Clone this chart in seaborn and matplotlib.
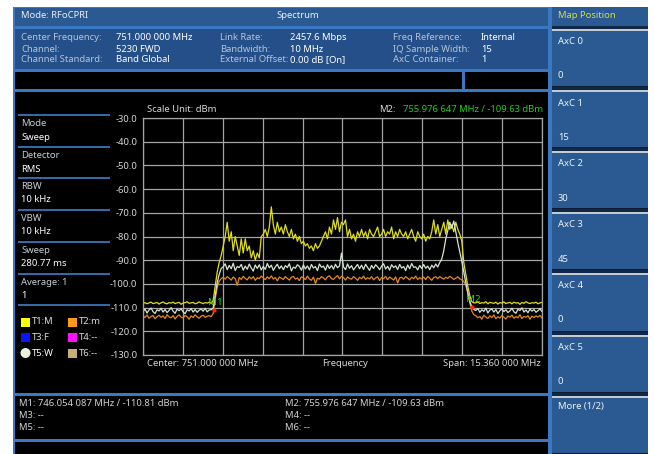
import numpy as np
import pandas as pd
import matplotlib
matplotlib.use("Agg")
import matplotlib.pyplot as plt
import seaborn as sns
from matplotlib.patches import Rectangle, Ellipse

# ---------------------------------------------------------------- data
center_mhz = 751.0
span_mhz = 15.36
top_dbm = -30.0
bottom_dbm = -130.0
y_ticks = [-30.0, -40.0, -50.0, -60.0, -70.0, -80.0, -90.0, -100.0, -110.0, -120.0, -130.0]

# T1: max hold trace (dBm per sweep point)
t1_max_hold = [
    -108.2, -107.9, -108.4, -108.0, -107.7, -108.3, -108.1, -107.8, -108.5, -108.0,
    -107.6, -108.2, -108.4, -107.9, -108.1, -107.7, -108.3, -108.0, -107.8, -108.6,
    -108.1, -107.9, -107.5, -108.2, -108.0, -107.8, -108.4, -108.1, -107.6, -108.0,
    -108.3, -107.9, -108.1, -107.7, -108.2,
    -107.0, -101.0, -95.0, -91.0, -88.0,
    -84.0, -80.0, -74.0, -82.0, -78.0, -86.0, -80.0, -84.0, -88.0, -81.0,
    -87.0, -81.0, -86.0, -84.0, -89.0, -86.0, -90.0, -87.0, -89.0, -80.0,
    -79.0, -77.0, -80.0, -76.0, -67.5, -75.0, -79.0, -74.0, -78.0, -76.0,
    -79.0, -75.0, -78.0, -80.0, -77.0, -81.0, -79.0, -82.0, -80.0, -83.0,
    -82.0, -84.0, -83.0, -85.0, -84.0, -86.0, -83.0, -85.0, -84.0, -82.0,
    -80.0, -78.0, -81.0, -76.0, -79.0, -73.0, -77.0, -72.0, -78.0, -74.0,
    -75.0, -73.0, -80.0, -77.0, -81.0, -79.0, -82.0, -78.0, -80.0, -77.0,
    -80.0, -78.0, -81.0, -77.0, -79.0, -80.0, -78.0, -76.0, -80.0, -79.0,
    -77.0, -80.0, -78.0, -79.0, -76.0, -81.0, -78.0, -80.0, -77.0, -79.0,
    -80.0, -78.0, -81.0, -79.0, -77.0, -80.0, -82.0, -78.0, -80.0, -81.0,
    -79.0, -82.0, -80.0, -81.0, -78.0, -73.0, -79.0, -75.0, -80.0, -77.0,
    -74.0, -79.0, -73.0, -77.0, -75.0, -78.0, -74.0, -77.0, -79.0, -82.0,
    -91.0, -96.0, -101.0, -105.0, -107.5, -108.0,
    -108.0, -107.6, -108.3, -107.9, -108.1, -107.5, -108.4, -107.8, -108.0, -108.2,
    -107.7, -108.5, -107.9, -108.1, -107.6, -108.3, -108.0, -107.8, -108.4, -107.7,
    -108.1, -107.9, -108.6, -107.8, -108.2, -107.5, -108.0, -108.3, -107.9, -108.1,
    -107.7, -108.4, -108.0, -107.8,
]

# T2: min hold trace
t2_min_hold = [
    -113.6, -114.2, -113.1, -114.5, -113.8, -113.3, -114.7, -113.9, -113.2, -114.1,
    -113.5, -114.6, -113.0, -113.9, -114.3, -113.4, -114.8, -113.7, -113.1, -114.0,
    -114.4, -113.3, -113.8, -114.9, -113.5, -114.2, -113.0, -113.9, -114.5, -113.6,
    -113.2, -114.1, -113.7, -113.4, -113.8,
    -112.5, -106.5, -101.5, -98.8, -97.8,
    -97.2, -98.0, -96.9, -97.6, -98.4, -97.1, -97.8, -100.6, -97.3, -98.1,
    -96.8, -97.7, -98.3, -97.0, -97.9, -96.9, -98.5, -97.4, -97.8, -96.7,
    -97.5, -98.2, -97.0, -97.8, -96.6, -98.0, -97.3, -98.7, -97.1, -97.6,
    -98.1, -96.9, -97.7, -98.4, -97.2, -96.8, -98.0, -97.5, -98.6, -97.0,
    -97.4, -98.2, -96.7, -97.9, -98.5, -97.1, -99.8, -97.6, -98.0, -96.9,
    -97.5, -98.3, -97.0, -96.6, -97.8, -98.1, -97.2, -96.5, -97.9, -96.8,
    -97.3, -98.4, -97.1, -97.7, -98.0, -96.9, -97.6, -98.5, -97.2, -97.8,
    -96.7, -98.1, -97.4, -97.9, -96.9, -98.3, -97.5, -97.0, -98.6, -97.3,
    -97.8, -96.8, -98.2, -97.1, -97.7, -98.4, -97.0, -99.6, -97.5, -97.2,
    -98.0, -96.9, -97.6, -98.3, -97.2, -97.8, -96.7, -98.1, -97.4, -97.9,
    -97.1, -98.2, -96.8, -97.6, -98.5, -97.3, -97.0, -97.8, -96.9, -97.5,
    -98.0, -97.2, -97.7, -96.8, -97.4, -98.1, -97.6, -97.0, -97.9, -98.3,
    -99.0, -100.5, -103.5, -108.0, -111.5, -113.0,
    -113.4, -114.3, -113.8, -114.9, -113.2, -114.0, -114.6, -113.5, -114.2, -113.1,
    -114.7, -113.9, -114.4, -113.3, -114.1, -114.8, -113.6, -114.0, -113.2, -114.5,
    -113.8, -114.3, -113.0, -114.6, -113.7, -114.1, -113.4, -114.9, -113.6, -114.2,
    -113.5, -114.0, -113.3, -114.4,
]

# T5: clear/write trace
t5_write = [
    -111.8, -110.6, -112.3, -111.0, -110.2, -111.7, -112.5, -110.9, -111.4, -110.3,
    -111.9, -110.8, -112.1, -111.2, -110.0, -111.5, -112.4, -110.7, -111.3, -110.5,
    -111.8, -112.6, -110.9, -111.4, -110.4, -111.9, -110.8, -112.0, -111.1, -110.6,
    -111.5, -110.3, -111.8, -111.0, -110.9,
    -110.2, -105.0, -99.5, -96.0, -93.5,
    -92.8, -91.5, -94.0, -92.2, -93.6, -91.3, -94.4, -92.7, -93.1, -91.8,
    -94.2, -92.5, -93.8, -91.6, -93.3, -94.6, -92.0, -93.5, -91.9, -94.1,
    -92.6, -93.9, -91.4, -93.2, -92.1, -94.3, -92.8, -91.7, -93.6, -92.4,
    -94.0, -92.3, -93.1, -91.5, -94.5, -92.9, -93.4, -91.9, -92.6, -94.2,
    -92.0, -93.7, -92.4, -94.1, -91.8, -93.3, -92.7, -94.4, -91.6, -93.0,
    -92.5, -94.2, -91.9, -93.5, -92.2, -93.8, -91.7, -93.2, -92.4, -87.0,
    -92.8, -94.0, -91.6, -93.4, -92.3, -94.1, -92.9, -91.8, -93.6, -92.1,
    -93.9, -91.7, -93.0, -94.3, -92.2, -93.5, -91.9, -92.8, -94.0, -92.5,
    -91.5, -93.7, -92.6, -94.2, -91.9, -93.1, -92.4, -93.9, -91.8, -93.3,
    -92.7, -94.4, -92.0, -93.6, -91.4, -93.0, -92.8, -94.1, -92.2, -93.5,
    -91.8, -93.4, -92.5, -94.0, -92.1, -93.2, -91.6, -92.9, -91.0, -89.5,
    -86.0, -81.0, -77.5, -74.0, -76.5, -73.5, -78.0, -82.5, -86.5, -90.5,
    -95.0, -99.5, -104.0, -107.5, -109.6, -110.8,
    -111.2, -110.4, -112.0, -110.9, -111.6, -110.2, -112.3, -111.0, -110.6, -111.9,
    -110.8, -112.5, -111.3, -110.5, -111.7, -110.9, -112.1, -111.4, -110.3, -111.8,
    -112.4, -110.7, -111.2, -110.1, -111.9, -111.0, -112.2, -110.6, -111.5, -110.8,
    -112.0, -111.3, -110.5, -111.7,
]

marker_names = ["M1", "M2"]
marker_freq_mhz = [746.054087, 755.976647]
marker_dbm = [-110.81, -109.63]

sidebar_labels = ["Mode", "Detector", "RBW", "VBW", "Sweep", "Average: 1"]
sidebar_values = ["Sweep", "RMS", "10 kHz", "10 kHz", "280.77 ms", "1"]

axc_names = ["AxC 0", "AxC 1", "AxC 2", "AxC 3", "AxC 4", "AxC 5"]
axc_values = ["0", "15", "30", "45", "0", "0"]

# ---------------------------------------------------------------- style
sns.set_theme(style="dark")
FONT = ["Noto Sans", "DejaVu Sans"]
plt.rcParams["font.family"] = FONT

W, H = 654, 454
fig = plt.figure(figsize=(W / 100, H / 100), dpi=100)
fig.patch.set_facecolor("white")

BORDER = "#3a78c4"
PANEL = "#2b5a93"
INFO = "#244f88"
LABEL = "#b4c4da"
GREY = "#d2d2d2"
GREEN = "#22cc22"


def box(x0, y0, x1, y1, color, z=-2):
    fig.patches.append(Rectangle((x0 / W, 1 - y1 / H), (x1 - x0) / W, (y1 - y0) / H,
                                 transform=fig.transFigure, facecolor=color,
                                 edgecolor="none", zorder=z))


def txt(x, y, s, color=GREY, size=6.8, ha="left", weight="normal"):
    fig.text(x / W, 1 - y / H, s, color=color, fontsize=size, ha=ha, va="center",
             weight=weight)


# left frame and panels
box(13, 7, 551, 454, BORDER, z=-3)
box(15, 8, 548, 26, PANEL)
box(15, 29, 548, 69, INFO)
box(15, 72, 462, 89, "black")
box(465, 72, 548, 89, "black")
box(15, 92, 548, 393, "black")
box(15, 396, 548, 439, "black")
box(15, 442, 548, 454, "black")

txt(21, 16, "Mode: RFoCPRI", color="#e8eef6")
txt(298, 16, "Spectrum", color="#e8eef6", ha="center")

info_rows = [38, 49, 60]
col_labels = [
    (21, ["Center Frequency:", "Channel:", "Channel Standard:"]),
    (220, ["Link Rate:", "Bandwidth:", "External Offset:"]),
    (393, ["Freq Reference:", "IQ Sample Width:", "AxC Container:"]),
]
col_values = [
    (116, ["751.000 000 MHz", "5230 FWD", "Band Global"]),
    (290, ["2457.6 Mbps", "10 MHz", "0.00 dB [On]"]),
    (481, ["Internal", "15", "1"]),
]
for x, items in col_labels:
    for y, s in zip(info_rows, items):
        txt(x, y, s, color=LABEL)
for x, items in col_values:
    for y, s in zip(info_rows, items):
        txt(x, y, s, color="white")

# sidebar with measurement settings
sep_y = [115, 147, 178, 210, 242, 274, 305]
for y in sep_y:
    box(18, y - 0.8, 110, y + 0.8, "#3568a8", z=-1)
for i, (lab, val) in enumerate(zip(sidebar_labels, sidebar_values)):
    y0 = sep_y[i]
    txt(21, y0 + 8.5, lab, color="#c8ccd2")
    txt(21, y0 + 22, val, color="white")

# trace legend
legend_items = [
    (21, 322, "#ffff00", "T1:M", "sq"), (68, 322, "#ff9a1a", "T2:m", "sq"),
    (21, 337, "#0a14ff", "T3:F", "sq"), (68, 337, "#ff10ff", "T4:--", "sq"),
    (21, 353, "#e6f2dc", "T5:W", "ci"), (68, 353, "#c8b074", "T6:--", "sq"),
]
for x, y, c, s, kind in legend_items:
    if kind == "sq":
        box(x, y - 4.5, x + 9, y + 4.5, c, z=1)
    else:
        fig.patches.append(Ellipse(((x + 4.5) / W, 1 - y / H), 10 / W, 10 / H,
                                   transform=fig.transFigure, facecolor=c,
                                   edgecolor="none", zorder=1))
    txt(x + 11, y, s, color="white" if kind == "ci" else "#d8dce2",
        weight="bold" if kind == "ci" else "normal")

# marker readout panel
txt(19, 404, "M1: 746.054 087 MHz / -110.81 dBm")
txt(19, 415.5, "M3: --")
txt(19, 427, "M5: --")
txt(285, 404, "M2: 755.976 647 MHz / -109.63 dBm")
txt(285, 415.5, "M4: --")
txt(285, 427, "M6: --")

# right soft-key panel
box(549, 7, 552, 454, BORDER, z=-3)
box(552, 7, 648, 454, "#102748", z=-3)
box(552, 7, 648, 26, PANEL)
txt(558, 16, "Map Position", color="#d4dc4c")
btn_tops = [29, 90, 151, 212, 273, 335, 396]
for k, top in enumerate(btn_tops):
    bottom = btn_tops[k + 1] - 3 if k + 1 < len(btn_tops) else 454
    box(552, top, 648, top + 2, "#c4cad2", z=-2)
    box(552, top + 2, 648, bottom, PANEL, z=-2)
    box(552, bottom - 1.5, 648, bottom, "#0c1c34", z=-1)
    if k < len(axc_names):
        txt(558, top + 13, axc_names[k], color="#eef2f8")
        txt(558, top + 47, axc_values[k], color="#eef2f8")
    else:
        txt(558, top + 11, "More (1/2)", color="#eef2f8")

# ---------------------------------------------------------------- spectrum plot
f_start = center_mhz - span_mhz / 2
f_stop = center_mhz + span_mhz / 2

ax = fig.add_axes([143 / W, 1 - 355 / H, 399 / W, 237 / H])
ax.set_facecolor("black")

traces = [("T1:M", t1_max_hold), ("T2:m", t2_min_hold), ("T5:W", t5_write)]
frames = []
for name, vals in traces:
    frames.append(pd.DataFrame({
        "freq": np.linspace(f_start, f_stop, len(vals)),
        "dbm": vals,
        "trace": name,
    }))
df = pd.concat(frames, ignore_index=True)

palette = {"T1:M": "#dede1e", "T2:m": "#e3891a", "T5:W": "#d6e4d4"}
sns.lineplot(data=df, x="freq", y="dbm", hue="trace",
             hue_order=["T1:M", "T2:m", "T5:W"], palette=palette,
             estimator=None, sort=False, legend=False, linewidth=0.9, ax=ax)

ax.scatter(marker_freq_mhz, marker_dbm, s=9, color="#ff2020", zorder=6, linewidths=0)
for name, f, d in zip(marker_names, marker_freq_mhz, marker_dbm):
    ax.annotate(name, (f, d), xytext=(1, 7), textcoords="offset pixels",
                ha="center", va="center", color="#20e020", fontsize=7, zorder=7)

ax.set_xlim(f_start, f_stop)
ax.set_ylim(bottom_dbm, top_dbm)
ax.set_xticks(np.linspace(f_start, f_stop, 11))
ax.set_yticks(y_ticks)
ax.set_yticklabels([f"{v:.1f}" for v in y_ticks])
ax.grid(True, color="#a4a4a4", linewidth=0.9)
ax.set_axisbelow(True)
for sp in ax.spines.values():
    sp.set_color("#a4a4a4")
    sp.set_linewidth(0.9)
ax.tick_params(axis="x", length=0, labelbottom=False)
ax.tick_params(axis="y", length=0, pad=4, labelcolor="#d8d8d8", labelsize=6.8)
ax.set_xlabel("")
ax.set_ylabel("")

txt(147, 110, "Scale Unit: dBm", color="#d8d8d8")
txt(543, 110, "755.976 647 MHz / -109.63 dBm", color=GREEN, ha="right")
txt(396, 110, "M2:", color="#d8d8d8", ha="right")
txt(147, 364, "Center: 751.000 000 MHz", color="#d8d8d8")
txt(345, 364, "Frequency", color="#d8d8d8", ha="center")
txt(541, 364, "Span: 15.360 000 MHz", color="#d8d8d8", ha="right")

fig.savefig("out.png", dpi=100, facecolor="white")
